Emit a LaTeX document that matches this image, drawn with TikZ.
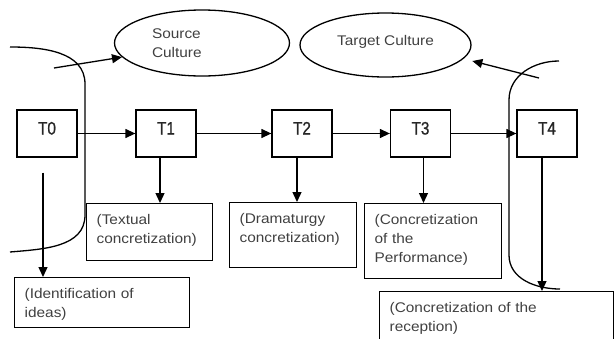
\documentclass[tikz,border=0pt]{standalone}
\usepackage{fontspec}
\setmainfont{Liberation Sans}[FakeStretch=1.1]
\newfontfamily\labelfont{Liberation Sans}[FakeStretch=0.85, FakeBold=0.8]
\usetikzlibrary{shapes.geometric,arrows.meta}
\definecolor{textgray}{RGB}{64,64,64}

\begin{document}
\begin{tikzpicture}
[x=1pt, y=1pt, line width=1.3pt, >={Triangle[length=10pt,width=9pt]},
 every node/.style={inner sep=0pt, font=\fontsize{14}{19}\selectfont, text=textgray},
 tbox/.style={rectangle, draw=black, minimum width=60pt, minimum height=47pt, text height=13pt, text depth=11pt, font=\labelfont\fontsize{18}{20}\selectfont, text=black!85},
 culture/.style={ellipse, draw=black},
 descbox/.style={rectangle, draw=black, anchor=north west, inner xsep=10pt, align=left, text height=21pt}]
\clip (0,0) rectangle (614,-338);
\node (t0) [tbox] at (47, -133.5) {T0};
\node (t1) [tbox] at (166, -133.5) {T1};
\node (t2) [tbox] at (302, -133.5) {T2};
\node (t3) [tbox] at (420.5, -133.5) {T3};
\node (t4) [tbox] at (547, -133.5) {T4};
\node (source) [culture, minimum width=175pt, minimum height=66pt, text width=100pt, align=left] at (202, -43) {Source\\Culture};
\node (target) [culture, minimum width=171pt, minimum height=64pt, text depth=10pt] at (385.5, -45) {Target Culture};
\node (textual) [descbox, text width=106pt, text depth=36pt] at (86, -203) {(Textual\\concretization)};
\node (dramaturgy) [descbox, text width=107pt, text depth=44pt] at (229, -202) {(Dramaturgy\\concretization)};
\node (performance) [descbox, text width=117pt, text depth=54pt] at (364, -203) {(Concretization\\of the\\Performance)};
\node (ideas) [descbox, text width=155pt, text depth=29pt] at (14, -277) {(Identification of\\ideas)};
\node (reception) [descbox, text width=214pt, text depth=50pt] at (379, -291) {(Concretization of the\\reception)};
\coordinate (srcfrom) at (54, -68);
\coordinate (tgtfrom) at (539, -78);
% culture borders
\draw (10, -47) to [out=0, in=90] (85, -84) -- (85, -215) to [out=-90, in=5] (10, -252);
\draw (559, -61) to [out=180, in=90] (509, -100) -- (509, -255) to [out=-90, in=180] (560, -289);
\draw [->] (srcfrom) to (source.190);
\draw [->, shorten >=9pt] (tgtfrom) to (target.350);
% main line
\draw [->] (t0) to (t1);
\draw [->] (t1) to (t2);
\draw [->] (t2) to (t3);
\draw [->] (t3) to (t4);
\draw [->] ([shift={(-4pt,-15pt)}]t0.south) to ([xshift=-4pt]t0.south |- ideas.north);
\draw [->] ([xshift=-6pt]t1.south) to ([xshift=-6pt]t1.south |- textual.north);
\draw [->] ([xshift=-5pt]t2.south) to ([xshift=-5pt]t2.south |- dramaturgy.north);
\draw [->] ([xshift=3pt]t3.south) to ([xshift=3pt]t3.south |- performance.north);
\draw [->] ([xshift=-5pt]t4.south) to ([xshift=-5pt]t4.south |- reception.north);
\end{tikzpicture}
\end{document}
